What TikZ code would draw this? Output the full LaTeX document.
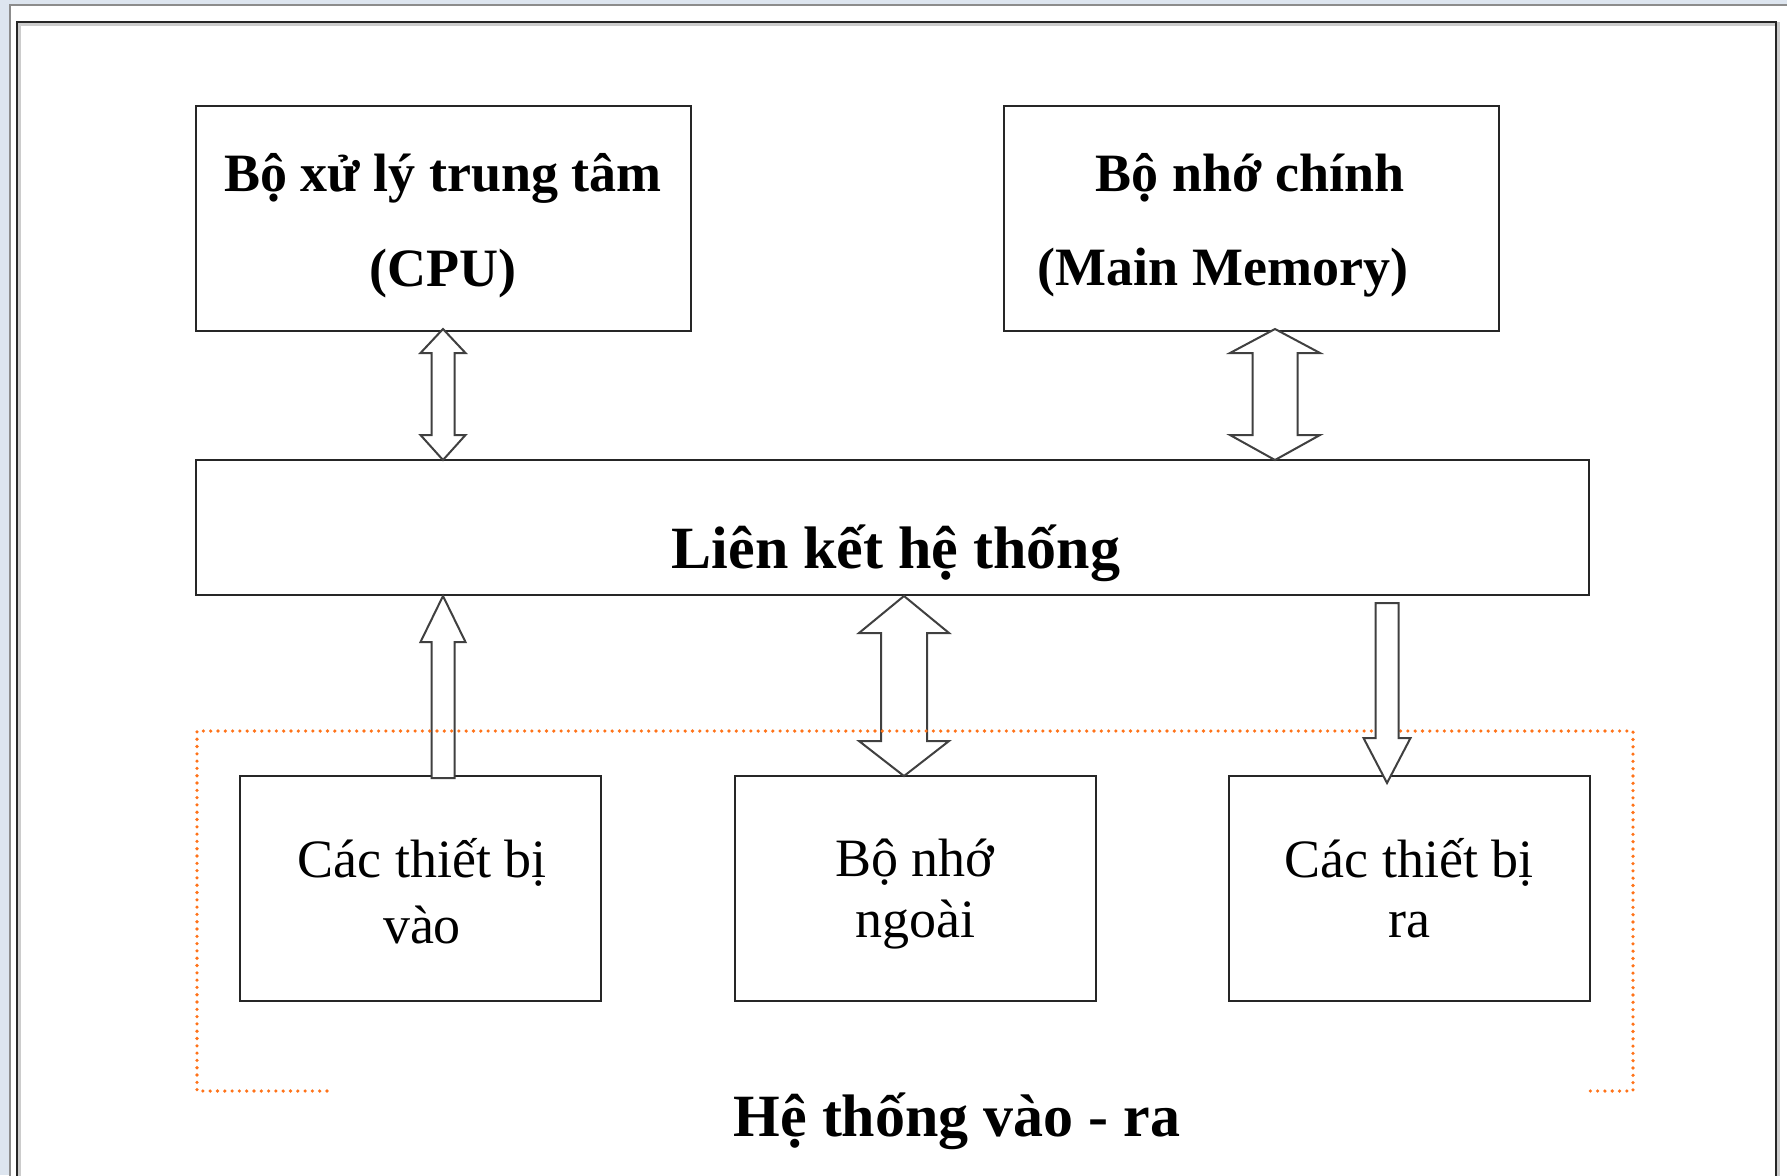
\documentclass[tikz,border=0pt]{standalone}
\usepackage{fontspec}
\setmainfont{Liberation Serif}
\begin{document}
\begin{tikzpicture}[x=0.5pt,y=-0.5pt]
\definecolor{bgblue}{RGB}{221,229,239}
\definecolor{dotorange}{RGB}{255,115,25}
\tikzset{
  box/.style={draw=black!85, line width=1pt, fill=white, inner sep=0pt},
  blockarrow/.style={draw=black!75, line width=1pt, fill=white, line join=miter},
  txt/.style={inner sep=0pt, font=\fontsize{27pt}{32pt}\selectfont},
  btxt/.style={inner sep=0pt, font=\fontsize{27pt}{32pt}\selectfont\bfseries},
  bigtxt/.style={inner sep=0pt, font=\fontsize{30pt}{36pt}\selectfont\bfseries},
  dotline/.style={draw=dotorange, line width=1.8pt, line cap=round, dash pattern=on 0pt off 3.65pt}
}
\useasboundingbox (0,0) rectangle (1787,1175);
\clip (0,0) rectangle (1787,1175);
% window background
\fill[bgblue] (0,0) rectangle (1787,1175);
\filldraw[fill=white, draw=black!45, line width=1pt] (10,5) rectangle (1800,1200);
\draw[black!20, line width=2pt] (19,24) rectangle (1778,1200);
\draw[black!85, line width=1.2pt] (17,22) rectangle (1776,1200);

% boxes
\node[box, minimum width=247.5pt, minimum height=112.5pt] (cpu) at (443.5,218.5) {};
\node[box, minimum width=247.5pt, minimum height=112.5pt] (mem) at (1251.5,218.5) {};
\node[box, minimum width=696.5pt, minimum height=67.5pt] (bus) at (892.5,527.5) {};
\node[box, minimum width=180.5pt, minimum height=112.5pt] (in) at (420.5,888.5) {};
\node[box, minimum width=180.5pt, minimum height=112.5pt] (ext) at (915,888.5) {};
\node[box, minimum width=180.5pt, minimum height=112.5pt] (out) at (1409,888.5) {};

% texts
\node[btxt] (cpu1) at (443,178) {Bộ xử lý trung tâm};
\node[btxt] (cpu2) at (443,273) {(CPU)};
\node[btxt] (mem1) at (1250,178) {Bộ nhớ chính};
\node[btxt] (mem2) at (1223,273) {(Main Memory)};
\node[bigtxt] (bus1) at (896,553) {Liên kết hệ thống};
\node[txt] (in1) at (422,862) {Các thiết bị};
\node[txt] (in2) at (422,925) {vào};
\node[txt] (ext1) at (915,862) {Bộ nhớ};
\node[txt] (ext2) at (915,925) {ngoài};
\node[txt] (out1) at (1409,862) {Các thiết bị};
\node[txt] (out2) at (1409,925) {ra};

% block arrows
\draw[blockarrow] (443,329) -- (465.5,353) -- (454.5,353) -- (454.5,435) -- (465.5,435) -- (443,460) -- (420.5,435) -- (431.5,435) -- (431.5,353) -- (420.5,353) -- cycle;
\draw[blockarrow] (1275,329) -- (1320,353) -- (1297.5,353) -- (1297.5,435) -- (1320,435) -- (1275,460) -- (1230,435) -- (1252.5,435) -- (1252.5,353) -- (1230,353) -- cycle;
\draw[blockarrow] (443,596) -- (465.5,642) -- (454.5,642) -- (454.5,778) -- (431.5,778) -- (431.5,642) -- (420.5,642) -- cycle;
\draw[blockarrow] (904,596) -- (949,633) -- (927,633) -- (927,741) -- (949,741) -- (904,776) -- (859,741) -- (881,741) -- (881,633) -- (859,633) -- cycle;

% I/O system bracket
\coordinate (bl1) at (327,1091);
\coordinate (bl2) at (197,1091);
\coordinate (tl) at (197,731);
\coordinate (tr) at (1633,731);
\coordinate (br2) at (1633,1091);
\coordinate (br1) at (1589,1091);
\draw[dotline] (bl1) -- (bl2) -- (tl) -- (tr) -- (br2) -- (br1);

\draw[blockarrow] (1375.5,603) -- (1398.5,603) -- (1398.5,738) -- (1410.5,738) -- (1387,783) -- (1363.5,738) -- (1375.5,738) -- cycle;

\node[bigtxt] (io) at (957,1121) {Hệ thống vào - ra};
\end{tikzpicture}
\end{document}
